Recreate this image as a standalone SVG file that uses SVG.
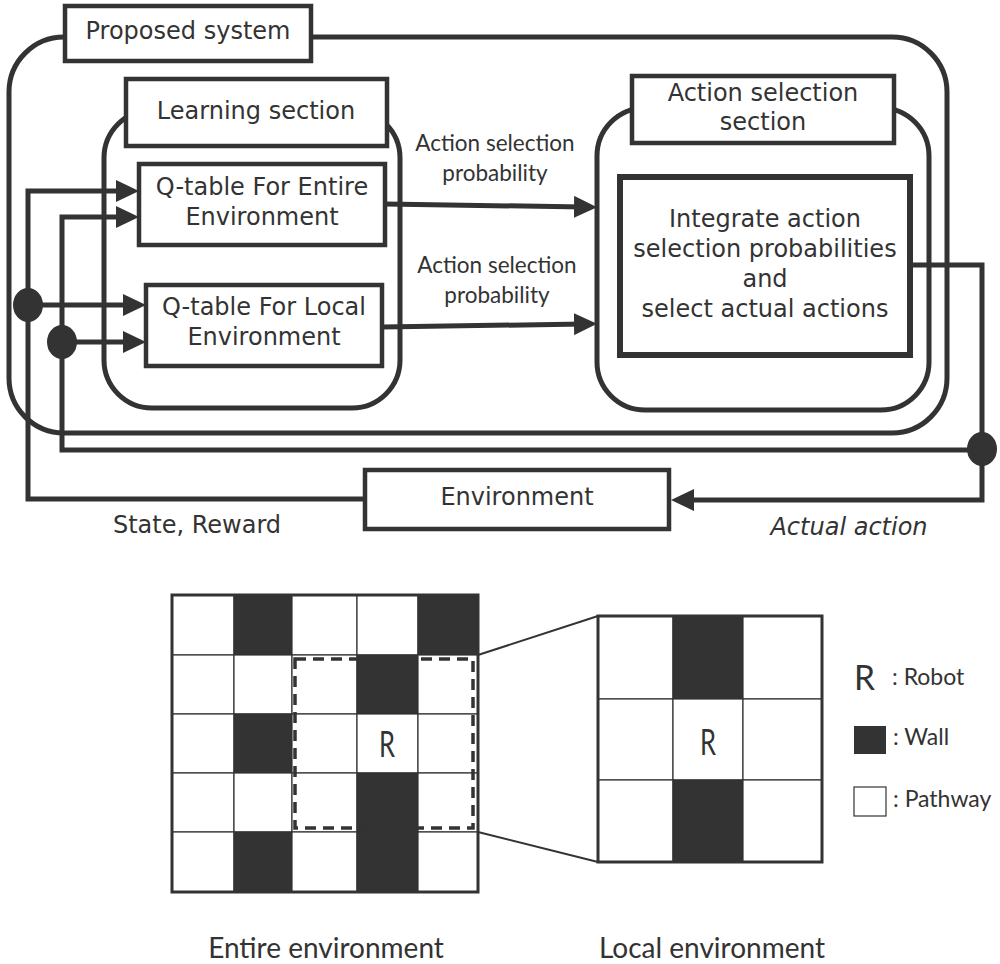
<svg xmlns="http://www.w3.org/2000/svg" width="1000" height="964" viewBox="0 0 1000 964">
<defs>
<style>
.frame{fill:none;stroke:#333;stroke-width:5}
.lbl{fill:#fff;stroke:#333;stroke-width:4.5}
.box{fill:#fff;stroke:#333;stroke-width:4.5}
.bold{fill:#fff;stroke:#333;stroke-width:6}
.t{font-family:"DejaVu Sans","Noto Sans",sans-serif;font-size:24px;fill:#333;text-anchor:middle}
.ti{font-family:"DejaVu Sans","Noto Sans",sans-serif;font-size:24px;font-style:italic;fill:#333;text-anchor:middle}
.c{font-family:Lato,"Noto Sans",sans-serif;fill:#333}
.ln{fill:none;stroke:#333;stroke-width:5}
.dot{fill:#333}
.cell{fill:#fff;stroke:#333;stroke-width:1.2}
.wall{fill:#333;stroke:#333;stroke-width:1.2}
.gb{fill:none;stroke:#333;stroke-width:3}
</style>
<marker id="ah" markerUnits="userSpaceOnUse" markerWidth="23" markerHeight="22" refX="10" refY="11" orient="auto">
<path d="M0,0 L23,11 L0,22 Z" fill="#333"/>
</marker>
</defs>
<rect width="1000" height="964" fill="#fff"/>

<g id="proposed-system">
<rect class="frame" x="9" y="37" width="938" height="396" rx="55"/>
<rect class="lbl" x="65" y="6" width="246" height="55"/>
<text class="t" x="188" y="39">Proposed system</text>
</g>

<g id="learning-section">
<rect class="frame" x="104" y="110" width="296" height="298" rx="48"/>
<rect class="lbl" x="126" y="79" width="261" height="67"/>
<text class="t" x="256" y="119">Learning section</text>
</g>

<g id="qtable-entire">
<rect class="box" x="139" y="164" width="246" height="81"/>
<text class="t" x="262" y="195">Q-table For Entire</text>
<text class="t" x="262" y="225">Environment</text>
</g>

<g id="qtable-local">
<rect class="box" x="146" y="285" width="236" height="81"/>
<text class="t" x="264" y="315">Q-table For Local</text>
<text class="t" x="264" y="345">Environment</text>
</g>

<g id="action-selection-section">
<rect class="frame" x="597" y="108" width="332" height="302" rx="48"/>
<rect class="lbl" x="632" y="76" width="262" height="67"/>
<text class="t" x="763" y="101">Action selection</text>
<text class="t" x="763" y="130">section</text>
</g>

<g id="integrate">
<rect class="bold" x="620" y="177" width="290" height="178"/>
<text class="t" x="765" y="227">Integrate action</text>
<text class="t" x="765" y="257">selection probabilities</text>
<text class="t" x="765" y="287">and</text>
<text class="t" x="765" y="317">select actual actions</text>
</g>

<g id="environment">
<rect class="box" x="365" y="470" width="304" height="59"/>
<text class="t" x="517" y="505">Environment</text>
</g>

<g id="connectors">
<path class="ln" d="M365,499 H28 V191 H126" marker-end="url(#ah)"/>
<path class="ln" d="M982,450 H62 V217 H126" marker-end="url(#ah)"/>
<path class="ln" d="M28,305 H133" marker-end="url(#ah)"/>
<path class="ln" d="M62,342 H133" marker-end="url(#ah)"/>
<path class="ln" d="M385,204 L584,207" marker-end="url(#ah)"/>
<path class="ln" d="M382,327 L584,324" marker-end="url(#ah)"/>
<path class="ln" d="M910,265 H982 V500 H684" marker-end="url(#ah)"/>
<ellipse class="dot" cx="28" cy="305" rx="15" ry="17"/>
<ellipse class="dot" cx="62" cy="342" rx="15" ry="17"/>
<ellipse class="dot" cx="982" cy="449" rx="15" ry="17"/>
<text class="c" x="495" y="151" font-size="22.5" text-anchor="middle">Action selection</text>
<text class="c" x="495" y="181" font-size="22.5" text-anchor="middle">probability</text>
<text class="c" x="497" y="273" font-size="22.5" text-anchor="middle">Action selection</text>
<text class="c" x="497" y="303" font-size="22.5" text-anchor="middle">probability</text>
<text class="t" x="197" y="533">State, Reward</text>
<text class="ti" x="849" y="535">Actual action</text>
</g>

<g id="entire-grid">
<rect class="cell" x="172" y="595" width="62" height="60"/>
<rect class="wall" x="234" y="595" width="58" height="60"/>
<rect class="cell" x="292" y="595" width="65" height="60"/>
<rect class="cell" x="357" y="595" width="61" height="60"/>
<rect class="wall" x="418" y="595" width="60" height="60"/>
<rect class="cell" x="172" y="655" width="62" height="59"/>
<rect class="cell" x="234" y="655" width="58" height="59"/>
<rect class="cell" x="292" y="655" width="65" height="59"/>
<rect class="wall" x="357" y="655" width="61" height="59"/>
<rect class="cell" x="418" y="655" width="60" height="59"/>
<rect class="cell" x="172" y="714" width="62" height="59"/>
<rect class="wall" x="234" y="714" width="58" height="59"/>
<rect class="cell" x="292" y="714" width="65" height="59"/>
<rect class="cell" x="357" y="714" width="61" height="59"/>
<rect class="cell" x="418" y="714" width="60" height="59"/>
<rect class="cell" x="172" y="773" width="62" height="59"/>
<rect class="cell" x="234" y="773" width="58" height="59"/>
<rect class="cell" x="292" y="773" width="65" height="59"/>
<rect class="wall" x="357" y="773" width="61" height="59"/>
<rect class="cell" x="418" y="773" width="60" height="59"/>
<rect class="cell" x="172" y="832" width="62" height="60"/>
<rect class="wall" x="234" y="832" width="58" height="60"/>
<rect class="cell" x="292" y="832" width="65" height="60"/>
<rect class="wall" x="357" y="832" width="61" height="60"/>
<rect class="cell" x="418" y="832" width="60" height="60"/>
<rect class="gb" x="172" y="595" width="306" height="297"/>
<rect x="295" y="659" width="178" height="169" fill="none" stroke="#333" stroke-width="3.5" stroke-dasharray="11,7"/>
<text class="c" x="387" y="757" font-size="37" text-anchor="middle" textLength="16" lengthAdjust="spacingAndGlyphs">R</text>
</g>

<g id="zoom-lines">
<line x1="478" y1="655" x2="598" y2="616" stroke="#333" stroke-width="2"/>
<line x1="478" y1="832" x2="598" y2="862" stroke="#333" stroke-width="2"/>
</g>

<g id="local-grid">
<rect class="cell" x="598" y="616" width="75" height="83"/>
<rect class="wall" x="673" y="616" width="70" height="83"/>
<rect class="cell" x="743" y="616" width="79" height="83"/>
<rect class="cell" x="598" y="699" width="75" height="81"/>
<rect class="cell" x="673" y="699" width="70" height="81"/>
<rect class="cell" x="743" y="699" width="79" height="81"/>
<rect class="cell" x="598" y="780" width="75" height="82"/>
<rect class="wall" x="673" y="780" width="70" height="82"/>
<rect class="cell" x="743" y="780" width="79" height="82"/>
<rect class="gb" x="598" y="616" width="224" height="246"/>
<text class="c" x="708" y="755" font-size="37" text-anchor="middle" textLength="16" lengthAdjust="spacingAndGlyphs">R</text>
</g>

<g id="legend">
<text class="c" x="854" y="690" font-size="34" textLength="21" lengthAdjust="spacingAndGlyphs">R</text>
<text class="c" x="892" y="685" font-size="23">: Robot</text>
<rect x="854" y="726" width="32" height="28" fill="#333"/>
<text class="c" x="893" y="745" font-size="23">: Wall</text>
<rect x="854" y="787" width="32" height="29" fill="#fff" stroke="#333" stroke-width="1.2"/>
<text class="c" x="893" y="807" font-size="23">: Pathway</text>
</g>

<g id="captions">
<text class="c" x="326" y="958" font-size="28" text-anchor="middle">Entire environment</text>
<text class="c" x="712" y="958" font-size="28" text-anchor="middle">Local environment</text>
</g>
</svg>
